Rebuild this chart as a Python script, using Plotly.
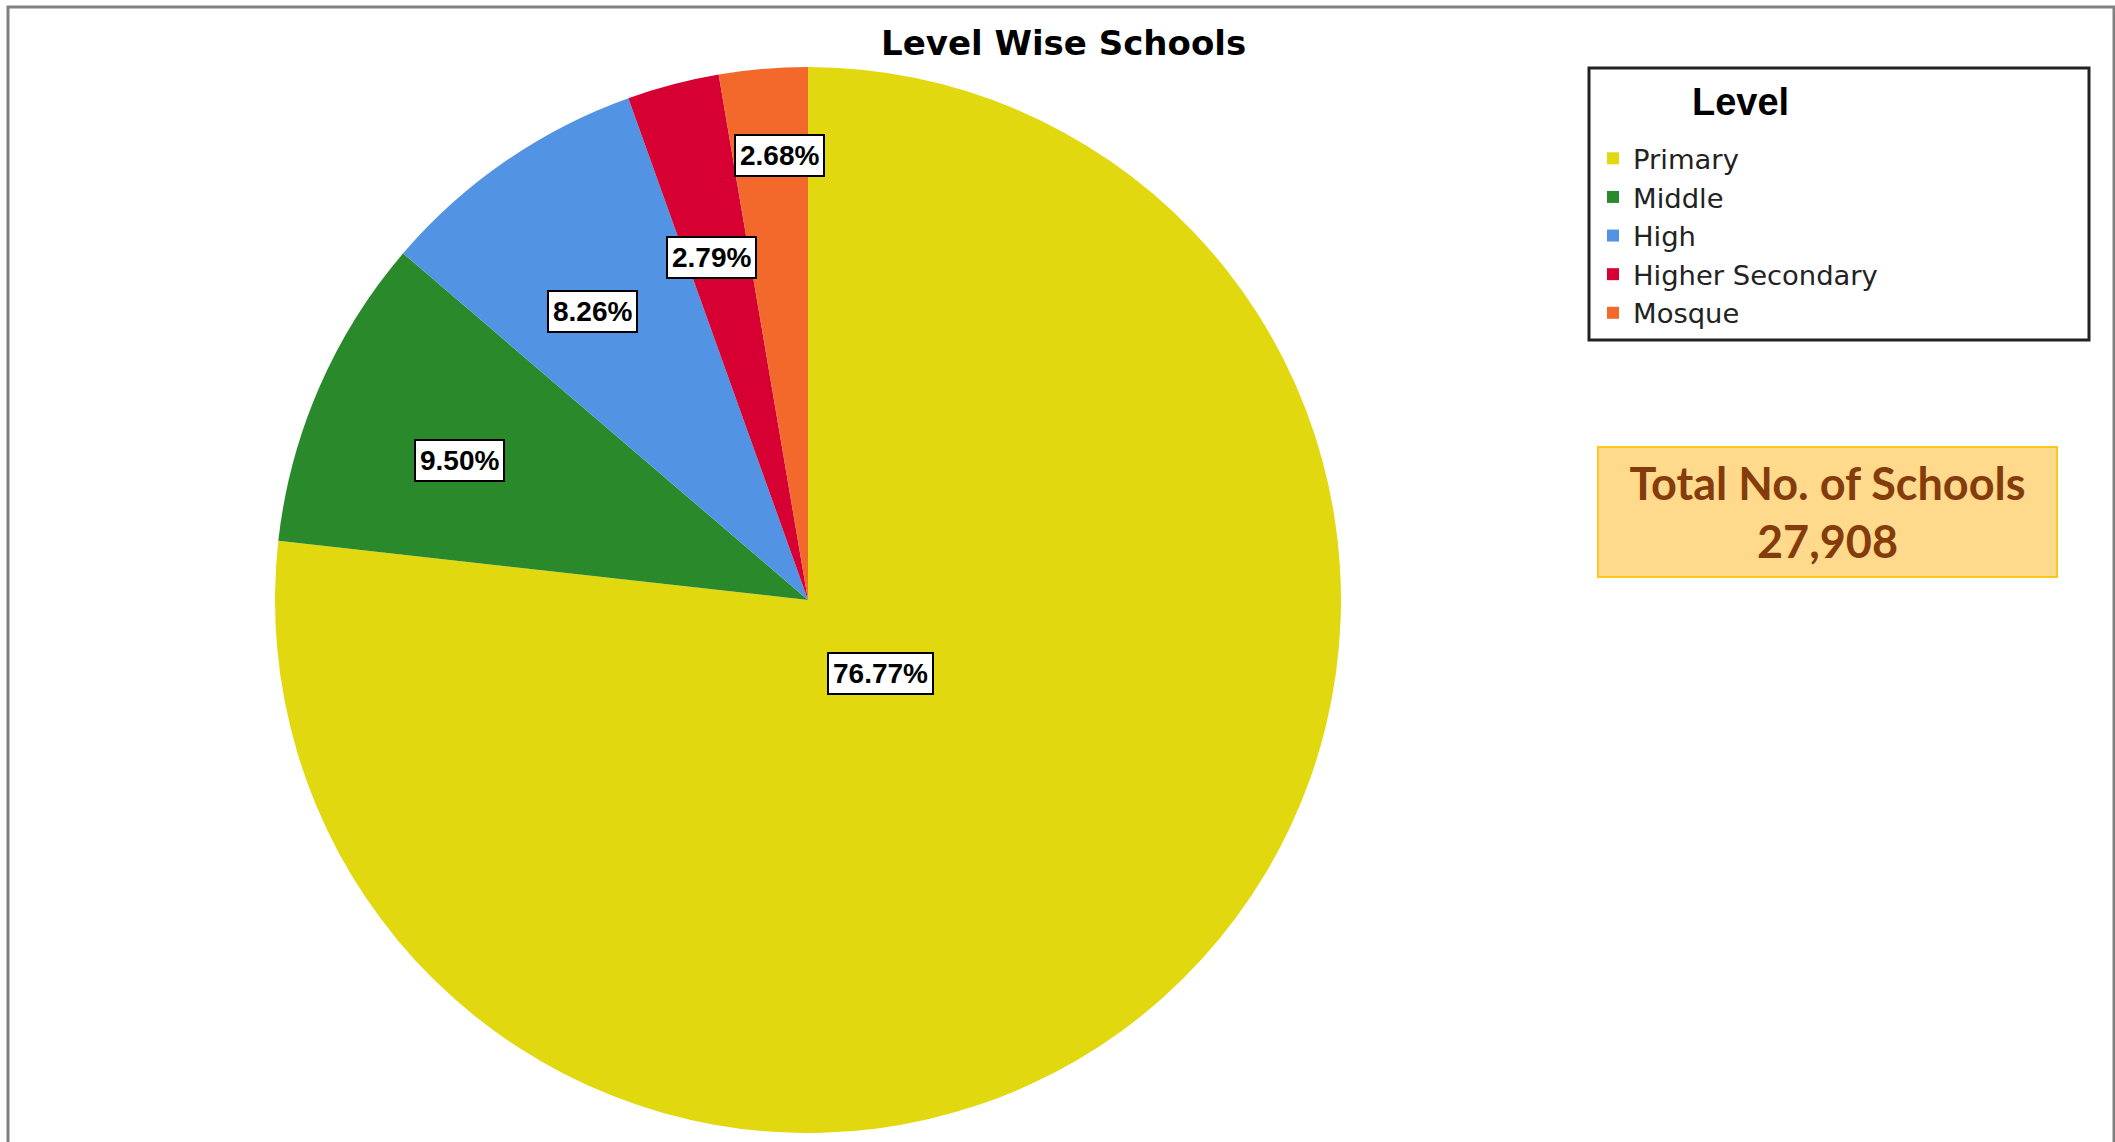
import plotly.graph_objects as go

# ---- data ----
levels = ["Primary", "Middle", "High", "Higher Secondary", "Mosque"]
schools = [21425, 2651, 2305, 779, 748]
colors = ["#E2D80F", "#2A8A2B", "#5294E3", "#D60032", "#F3692B"]
title_text = "Level Wise Schools"
legend_title = "Level"
total_label = "Total No. of Schools"

W, H = 2115, 1142
total = sum(schools)


def px(x):
    return x / W


def py(y):
    return 1 - y / H


fig = go.Figure()
fig.add_trace(go.Pie(
    labels=levels,
    values=schools,
    sort=False,
    direction="clockwise",
    rotation=0,
    marker=dict(colors=colors, line=dict(width=0)),
    textinfo="none",
    hoverinfo="label+value+percent",
    domain=dict(x=[px(275), px(1341)], y=[py(1133), py(67)]),
    showlegend=True,
))

# percentage labels (boxed), placed where the reference shows them
label_pos = [(880, 673), (459, 461), (592, 311), (711, 257), (779, 155)]
annotations = []
for v, (lx, ly) in zip(schools, label_pos):
    annotations.append(dict(
        x=px(lx), y=py(ly), xref="paper", yref="paper",
        text=f"<b>{v / total * 100:.2f}%</b>", showarrow=False,
        font=dict(family="Liberation Sans", size=28, color="black"),
        bgcolor="white", bordercolor="black", borderwidth=2, borderpad=4,
        xanchor="center", yanchor="middle",
    ))

# title
annotations.append(dict(
    x=px(1063), y=py(43), xref="paper", yref="paper",
    text=f"<b>{title_text}</b>", showarrow=False,
    font=dict(family="DejaVu Sans", size=34, color="black"),
    xanchor="center", yanchor="middle",
))

# legend heading
annotations.append(dict(
    x=px(1740), y=py(102), xref="paper", yref="paper",
    text=f"<b>{legend_title}</b>", showarrow=False,
    font=dict(family="Liberation Sans", size=38, color="black"),
    xanchor="center", yanchor="middle",
))

# total box
annotations.append(dict(
    x=px(1827), y=py(512), xref="paper", yref="paper",
    text=f"<b>{total_label}<br>{total:,}</b>", showarrow=False,
    font=dict(family="Lato", size=45, color="#843C0C"),
    align="center", xanchor="center", yanchor="middle",
    bgcolor="#FFDA8C", bordercolor="#FFC71E", borderwidth=2,
    width=455, height=126,
))

shapes = [
    # outer frame
    dict(type="rect", xref="paper", yref="paper",
         x0=px(8), x1=px(2114), y0=py(1160), y1=py(7),
         line=dict(color="#808080", width=3), fillcolor="rgba(0,0,0,0)", layer="below"),
    # legend frame
    dict(type="rect", xref="paper", yref="paper",
         x0=px(1589), x1=px(2089), y0=py(340), y1=py(68),
         line=dict(color="#222222", width=3), fillcolor="rgba(0,0,0,0)"),
]

fig.update_layout(
    width=W, height=H,
    margin=dict(l=0, r=0, t=0, b=0),
    paper_bgcolor="white", plot_bgcolor="white",
    annotations=annotations,
    shapes=shapes,
    legend=dict(
        x=px(1593), y=py(134), xanchor="left", yanchor="top",
        bgcolor="rgba(0,0,0,0)", borderwidth=0,
        font=dict(family="DejaVu Sans", size=27.4, color="#222222"),
        tracegroupgap=0,
    ),
)

fig.write_html("out.html", config={"displayModeBar": False},
               post_script="document.body.style.margin='0';")
